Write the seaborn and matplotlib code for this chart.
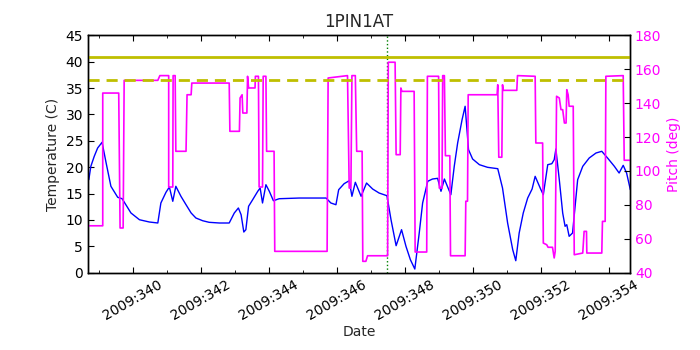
import matplotlib
matplotlib.use("Agg")
import numpy as np
import pandas as pd
import seaborn as sns
import matplotlib.pyplot as plt
from matplotlib.ticker import MultipleLocator, FuncFormatter
from matplotlib.transforms import blended_transform_factory

# ---------------- data (day of year 2009, fractional) ----------------
temp_day = [338.71, 338.77, 338.87, 338.97, 339.10, 339.22, 339.36, 339.56, 339.69, 339.80,
            339.95, 340.20, 340.49,
            340.74, 340.83, 340.98, 341.08, 341.18, 341.27, 341.42, 341.57, 341.72, 341.86,
            342.06, 342.25, 342.55, 342.84, 342.99, 343.11, 343.19, 343.27, 343.33, 343.41,
            343.53, 343.68, 343.75, 343.82, 343.92, 344.02, 344.14, 344.31, 344.90, 345.69,
            345.83, 345.98, 346.06, 346.22, 346.37, 346.45, 346.55, 346.72, 346.88, 347.06,
            347.25, 347.48, 347.60, 347.75, 347.91, 348.04, 348.17, 348.30, 348.43, 348.53,
            348.68, 348.82, 348.97, 349.07, 349.17, 349.36, 349.46, 349.56, 349.69, 349.78,
            349.88, 350.00, 350.20, 350.44, 350.74, 350.88, 351.03, 351.18, 351.27, 351.37,
            351.49, 351.62, 351.75, 351.84, 352.01, 352.08, 352.21, 352.33, 352.40, 352.45,
            352.55, 352.65, 352.72, 352.77, 352.84, 352.94, 353.09, 353.24, 353.43, 353.63,
            353.80, 353.97, 354.17, 354.31, 354.43, 354.53, 354.64]
temp_c = [17.62, 20.16, 22.06, 23.64, 24.72, 20.79, 16.37, 14.28, 14.01, 12.87,
          11.30, 10.02, 9.59,
          9.40, 13.20, 15.23, 16.23, 13.52, 16.37, 14.47, 12.87, 11.30, 10.35,
          9.83, 9.53, 9.40, 9.40, 11.30, 12.25, 10.97, 7.69, 8.13, 12.57,
          13.82, 15.42, 16.04, 13.20, 16.67, 15.42, 13.63, 14.01, 14.14, 14.14,
          13.20, 12.87, 15.72, 16.86, 17.43, 14.47, 17.13, 14.47, 16.99, 15.85,
          15.09, 14.58, 10.02, 5.09, 8.13, 4.97, 2.43, 0.66, 7.50, 13.20,
          17.32, 17.75, 17.88, 15.42, 17.75, 14.77, 20.16, 24.59, 29.01, 31.56,
          23.32, 21.55, 20.47, 19.97, 19.71, 16.04, 9.40, 4.33, 2.24, 7.50,
          11.30, 14.14, 15.85, 18.26, 15.72, 14.77, 20.47, 20.66, 21.42, 23.45,
          17.62, 11.30, 8.77, 9.08, 6.87, 7.50, 17.62, 20.16, 21.74, 22.69,
          23.01, 21.74, 20.16, 18.89, 20.35, 18.89, 15.72]

pitch_day = [338.71, 339.12, 339.12, 339.59, 339.63, 339.72, 339.75, 340.74, 340.80, 341.06,
             341.06, 341.18, 341.19, 341.25, 341.27, 341.57, 341.60, 341.72, 341.74, 342.84,
             342.86, 343.14, 343.16, 343.22, 343.24, 343.36, 343.38, 343.41, 343.60, 343.61,
             343.70, 343.72, 343.82, 343.84, 343.92, 343.94, 344.16, 344.18, 345.72, 345.75,
             346.32, 346.37, 346.42, 346.45, 346.55, 346.59, 346.75, 346.77, 346.86, 346.91,
             347.50, 347.52, 347.72, 347.75, 347.87, 347.89, 347.92, 348.28, 348.31, 348.65,
             348.67, 349.00, 349.02, 349.10, 349.12, 349.17, 349.20, 349.33, 349.35, 349.78,
             349.80, 349.85, 349.87, 350.72, 350.74, 350.77, 350.86, 350.88, 350.90, 351.30,
             351.32, 351.84, 351.86, 352.06, 352.08, 352.18, 352.22, 352.35, 352.40, 352.43,
             352.47, 352.55, 352.60, 352.65, 352.70, 352.75, 352.77, 352.81, 352.84, 352.96,
             352.99, 353.14, 353.24, 353.28, 353.35, 353.36, 353.80, 353.82, 353.90, 353.92,
             354.43, 354.46, 354.64]
pitch_deg = [67.6, 67.6, 146.0, 146.0, 66.3, 66.3, 153.5, 153.5, 156.3, 156.3,
             90.5, 90.5, 156.3, 156.3, 111.6, 111.6, 145.0, 145.0, 151.9, 151.9,
             123.4, 123.4, 143.1, 145.0, 134.2, 134.2, 155.9, 149.0, 149.0, 155.9,
             155.9, 90.5, 90.5, 155.9, 155.9, 111.6, 111.6, 52.5, 52.5, 154.9,
             156.3, 89.9, 89.9, 156.3, 156.3, 111.6, 111.6, 46.6, 46.6, 49.9,
             49.9, 164.2, 164.2, 109.6, 109.6, 149.0, 147.0, 147.0, 52.1, 52.1,
             155.9, 155.9, 89.9, 89.9, 156.3, 156.3, 109.0, 109.0, 49.9, 49.9,
             82.1, 82.1, 145.0, 145.0, 150.9, 108.1, 108.1, 150.9, 147.6, 147.6,
             156.3, 155.9, 116.5, 116.5, 57.4, 56.4, 54.9, 54.9, 48.6, 52.5,
             144.1, 143.1, 136.2, 136.2, 128.3, 128.3, 148.0, 145.0, 138.2, 138.2,
             50.5, 51.1, 51.5, 64.3, 64.3, 51.5, 51.5, 70.2, 70.2, 155.9,
             156.3, 106.3, 106.3]

limit_solid = 41.0     # temperature limit (C)
limit_dashed = 36.5    # temperature limit (C)
event_day = 347.49     # vertical marker
xlim = (338.686, 354.63)
temp_lim = (0, 45)
pitch_lim = (40, 180)

# ---------------- style ----------------
sns.set_style("white")
plt.rcParams.update({
    "font.family": ["DejaVu Sans"],
    "font.size": 10,
    "axes.edgecolor": "black",
    "axes.linewidth": 1.0,
    "xtick.direction": "in",
    "ytick.direction": "in",
    "xtick.major.size": 4,
    "xtick.minor.size": 2,
    "ytick.major.size": 4,
    "ytick.minor.size": 2,
    "xtick.color": "black",
    "ytick.color": "black",
})

fig = plt.figure(figsize=(7, 3.5), dpi=100)
fig.patch.set_facecolor("white")
ax = fig.add_axes([0.1257, 0.2214, 0.7743, 0.6772])

tdf = pd.DataFrame({"day": temp_day, "temp": temp_c})
pdf = pd.DataFrame({"day": pitch_day, "pitch": pitch_deg})

sns.lineplot(data=tdf, x="day", y="temp", ax=ax, color="blue", linewidth=1.0,
             estimator=None, sort=False, legend=False)
ax.axvline(event_day, color="green", linestyle=":", linewidth=1.0)

ax.set_xlim(*xlim)
ax.set_ylim(*temp_lim)
ax.yaxis.set_major_locator(MultipleLocator(5))
ax.xaxis.set_major_locator(MultipleLocator(2))
ax.xaxis.set_minor_locator(MultipleLocator(1))
ax.xaxis.set_major_formatter(FuncFormatter(lambda v, p: "2009:%03d" % int(round(v))))
ax.tick_params(axis="x", which="both", top=True, bottom=True)
ax.tick_params(axis="y", which="both", left=True, right=False)
ax.tick_params(labelsize=10)
for lab in ax.get_xticklabels():
    lab.set_rotation(30)
    lab.set_ha("center")
ax.set_xlabel("Date", fontsize=10, labelpad=2)
ax.set_ylabel("Temperature (C)", fontsize=10)
ax.set_title("1PIN1AT", fontsize=12)

ax2 = ax.twinx()
sns.lineplot(data=pdf, x="day", y="pitch", ax=ax2, color="magenta", linewidth=1.2,
             estimator=None, sort=False, legend=False)
ax2.set_ylim(*pitch_lim)
ax2.yaxis.set_major_locator(MultipleLocator(20))
ax2.tick_params(axis="y", which="both", right=True, left=False, direction="in",
                labelcolor="magenta", labelsize=10, color="black")
ax2.set_ylabel("Pitch (deg)", color="magenta", fontsize=10)
ax2.set_xlim(*xlim)

# temperature limit lines, drawn on top in temperature coordinates
trans = blended_transform_factory(ax2.transAxes, ax.transData)
ax2.plot([0, 1], [limit_solid, limit_solid], transform=trans, color=(0.75, 0.75, 0.0),
         linewidth=2.0, solid_capstyle="butt")
ax2.plot([0, 1], [limit_dashed, limit_dashed], transform=trans, color=(0.75, 0.75, 0.0),
         linewidth=2.0, linestyle="--", dashes=(4, 2.5))

for a in (ax, ax2):
    for s in a.spines.values():
        s.set_visible(True)
        s.set_color("black")
        s.set_linewidth(1.0)

fig.savefig("out.png", dpi=100, facecolor="white")
